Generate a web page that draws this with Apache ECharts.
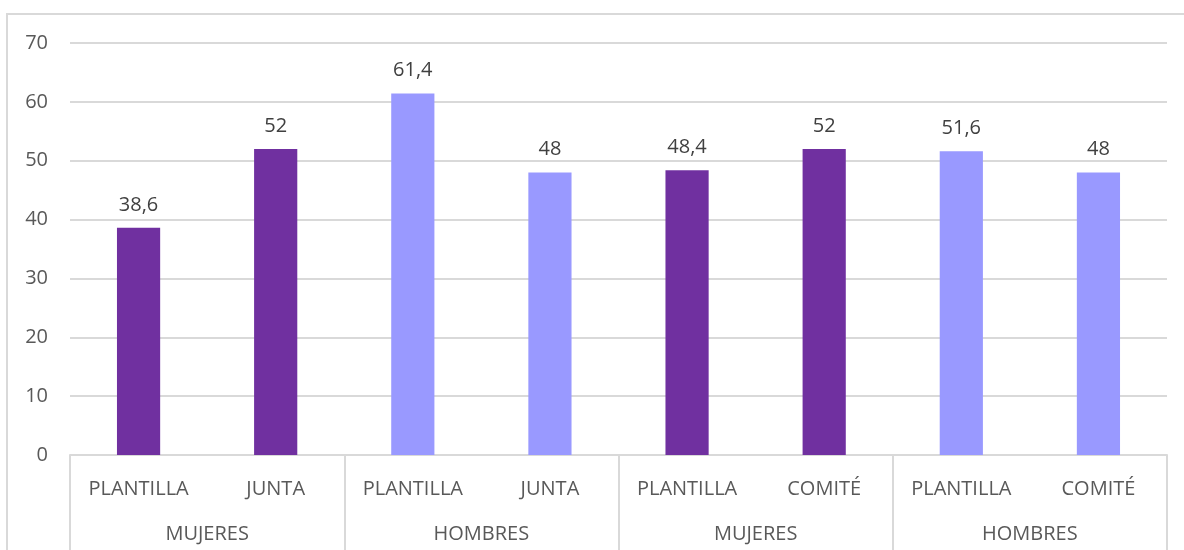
<!DOCTYPE html>
<html>
<head>
<meta charset="utf-8">
<script src="https://cdn.jsdelivr.net/npm/echarts@6/dist/echarts.min.js"></script>
<style>
  html, body { margin: 0; padding: 0; background: #fff; overflow: hidden; }
  #frame { position: absolute; left: 6px; top: 13px; width: 1300px; height: 700px; border: 2px solid #d9d9d9; box-sizing: border-box; }
  #chart { position: absolute; left: 0; top: 0; width: 1184px; height: 550px; }
</style>
</head>
<body>
<div id="frame"></div>
<div id="chart"></div>
<script>
const categories = ['PLANTILLA', 'JUNTA', 'PLANTILLA', 'JUNTA', 'PLANTILLA', 'COMITÉ', 'PLANTILLA', 'COMITÉ'];
const groups = ['MUJERES', 'HOMBRES', 'MUJERES', 'HOMBRES'];
const values = [38.6, 52, 61.4, 48, 48.4, 52, 51.6, 48];
const barColors = ['#7030A0', '#7030A0', '#9999FF', '#9999FF', '#7030A0', '#7030A0', '#9999FF', '#9999FF'];
const yTicks = { min: 0, max: 70, interval: 10 };

const FONT = '"Open Sans", "Noto Sans", sans-serif';
const chart = echarts.init(document.getElementById('chart'), null, { renderer: 'canvas' });
chart.setOption({
  animation: false,
  grid: { left: 70, right: 17, top: 43, bottom: 95, containLabel: false },
  xAxis: [
    {
      type: 'category',
      data: categories,
      position: 'bottom',
      axisLine: { show: true, lineStyle: { color: '#d9d9d9', width: 2 } },
      axisTick: { show: false },
      axisLabel: { interval: 0, color: '#595959', fontSize: 20, fontFamily: FONT, margin: 24 }
    },
    {
      type: 'category',
      data: groups,
      position: 'bottom',
      axisLine: { show: false },
      axisTick: { show: true, length: 100, lineStyle: { color: '#d9d9d9', width: 2 } },
      axisLabel: { interval: 0, color: '#595959', fontSize: 20, fontFamily: FONT, margin: 69 },
      splitLine: { show: false }
    }
  ],
  yAxis: {
    type: 'value',
    min: yTicks.min, max: yTicks.max, interval: yTicks.interval,
    axisLine: { show: false },
    axisTick: { show: false },
    axisLabel: { color: '#595959', fontSize: 20, fontFamily: FONT, margin: 22 },
    splitLine: { lineStyle: { color: '#d9d9d9', width: 2 } }
  },
  series: [{
    type: 'bar',
    xAxisIndex: 0,
    data: values.map((v, i) => ({ value: v, itemStyle: { color: barColors[i] } })),
    barWidth: '31.5%',
    label: {
      show: true,
      position: 'top',
      distance: 13,
      color: '#404040',
      fontSize: 20,
      fontFamily: FONT,
      formatter: p => String(p.value).replace('.', ',')
    }
  }]
});
</script>
</body>
</html>
